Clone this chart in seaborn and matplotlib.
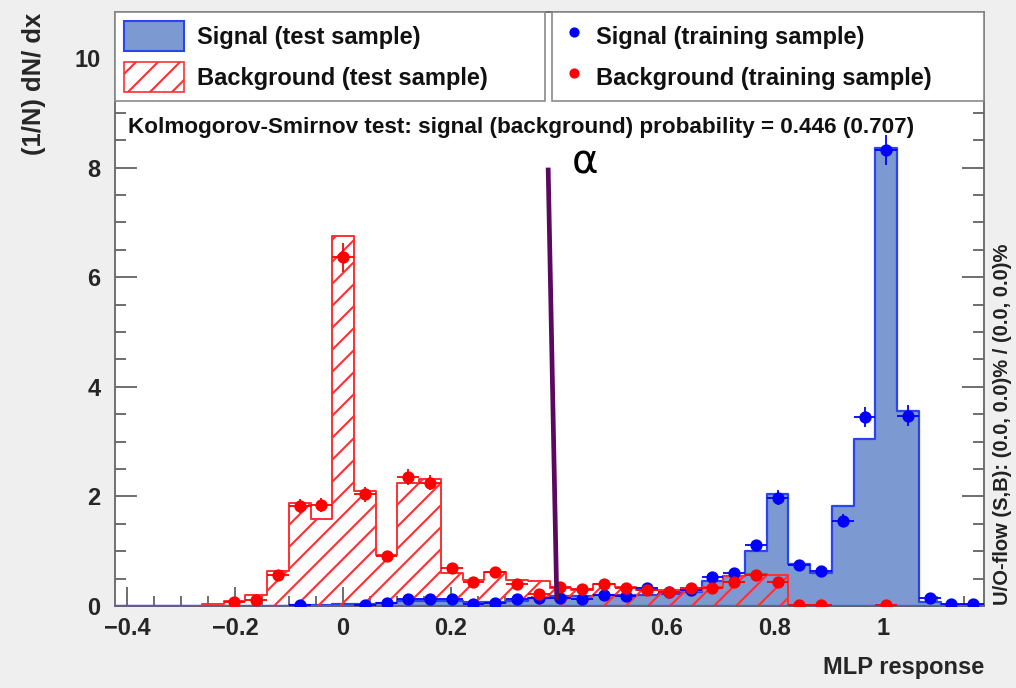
import numpy as np
import matplotlib
matplotlib.use("Agg")
import matplotlib.pyplot as plt
from matplotlib.patches import Patch
from matplotlib.lines import Line2D
from matplotlib.ticker import MultipleLocator, FuncFormatter
import seaborn as sns

# ---------------- data ----------------
XMIN, XMAX, NBINS = -0.422, 1.187, 40
nan = np.nan

signal_test = [0, 0, 0, 0, 0, 0, 0, 0, 0.02, 0.02,
               0.03, 0.04, 0.06, 0.10, 0.10, 0.10, 0.08, 0.08, 0.10, 0.15,
               0.18, 0.18, 0.20, 0.20, 0.20, 0.22, 0.25, 0.45, 0.55, 1.00,
               2.04, 0.76, 0.61, 1.82, 3.04, 8.35, 3.55, 0.08, 0.02, 0.02]

background_test = [0, 0, 0, 0, 0.03, 0.10, 0.20, 0.64, 1.88, 1.59,
                   6.75, 2.10, 0.93, 2.25, 2.32, 0.60, 0.48, 0.62, 0.48, 0.45,
                   0.33, 0.30, 0.40, 0.35, 0.30, 0.30, 0.28, 0.35, 0.55, 0.58,
                   0.57, 0, 0, 0, 0, 0, 0, 0, 0, 0]

signal_train = [nan, nan, nan, nan, nan, nan, nan, nan, 0.01, nan,
                nan, 0.02, 0.05, 0.12, 0.12, 0.12, 0.03, 0.06, 0.12, 0.15,
                0.15, 0.13, 0.20, 0.18, 0.33, 0.25, 0.30, 0.53, 0.60, 1.11,
                1.98, 0.74, 0.64, 1.56, 3.45, 8.32, 3.47, 0.15, 0.03, 0.03]
signal_train_err = [0, 0, 0, 0, 0, 0, 0, 0, 0.01, 0,
                    0, 0.01, 0.02, 0.03, 0.03, 0.03, 0.02, 0.02, 0.03, 0.04,
                    0.04, 0.03, 0.04, 0.04, 0.05, 0.05, 0.05, 0.07, 0.07, 0.10,
                    0.14, 0.08, 0.08, 0.12, 0.19, 0.28, 0.19, 0.04, 0.02, 0.02]

background_train = [nan, nan, nan, nan, nan, 0.08, 0.11, 0.57, 1.82, 1.84,
                    6.36, 2.04, 0.91, 2.35, 2.25, 0.70, 0.43, 0.62, 0.41, 0.21,
                    0.35, 0.31, 0.40, 0.33, 0.29, 0.26, 0.33, 0.33, 0.44, 0.57,
                    0.44, 0.01, 0.01, nan, nan, 0.01, nan, nan, nan, nan]
background_train_err = [0, 0, 0, 0, 0, 0.03, 0.03, 0.07, 0.13, 0.13,
                        0.26, 0.14, 0.09, 0.15, 0.14, 0.08, 0.06, 0.07, 0.06, 0.04,
                        0.06, 0.05, 0.06, 0.05, 0.05, 0.05, 0.05, 0.05, 0.06, 0.07,
                        0.06, 0.01, 0.01, 0, 0, 0.01, 0, 0, 0, 0]

ks_text = "Kolmogorov-Smirnov test: signal (background) probability = 0.446 (0.707)"
overflow_text = "U/O-flow (S,B): (0.0, 0.0)% / (0.0, 0.0)%"
labels_test = ["Signal (test sample)", "Background (test sample)"]
labels_train = ["Signal (training sample)", "Background (training sample)"]
# hand-drawn marker line with its label (data coordinates)
alpha_line_x = [0.380, 0.396]
alpha_line_y = [8.0, 0.1]
alpha_label_xy = (0.423, 8.1)

# ---------------- style ----------------
DPI = 132                 # chosen so that the hatch spacing matches
S = 100.0 / DPI           # sizes below are given as if at 100 dpi
def pt(v):
    return v * S

sns.set_style("ticks")
plt.rcParams["font.family"] = ["Liberation Sans", "DejaVu Sans"]
plt.rcParams["font.weight"] = "bold"
plt.rcParams["hatch.color"] = "red"
plt.rcParams["hatch.linewidth"] = pt(1.5)
plt.rcParams["axes.unicode_minus"] = True

SIG_FILL = "#7d99d1"
SIG_EDGE = "#2a45ee"
BKG_RED = "#ff3030"

edges = np.linspace(XMIN, XMAX, NBINS + 1)
centers = 0.5 * (edges[:-1] + edges[1:])
halfw = 0.5 * (edges[1] - edges[0])
bin_list = [float(e) for e in edges]

fig = plt.figure(figsize=(1016 / DPI, 688 / DPI), dpi=DPI, facecolor="#efefef")
ax = fig.add_axes([115 / 1016, 1 - 606 / 688, (984 - 115) / 1016, (606 - 12) / 688])
ax.set_facecolor("white")

sns.histplot(x=centers, weights=signal_test, bins=bin_list, element="step", fill=True,
             color=SIG_EDGE, facecolor=SIG_FILL, edgecolor=SIG_EDGE, linewidth=pt(1.6),
             ax=ax, zorder=1)
sns.histplot(x=centers, weights=background_test, bins=bin_list, element="step", fill=True,
             color=BKG_RED, facecolor=(1, 1, 1, 0), edgecolor=BKG_RED, linewidth=pt(1.4),
             hatch="//", ax=ax, zorder=2)

ax.errorbar(centers, signal_train, xerr=halfw, yerr=signal_train_err, fmt="o",
            color="#0000ff", ms=pt(7.5), elinewidth=pt(1.3), capsize=0, zorder=5)
ax.errorbar(centers, background_train, xerr=halfw, yerr=background_train_err, fmt="o",
            color="#ff0000", ms=pt(7.5), elinewidth=pt(1.3), capsize=0, zorder=6)

ax.plot(alpha_line_x, alpha_line_y, color="#5a0860", lw=pt(3.4), zorder=7,
        solid_capstyle="butt")
ax.text(alpha_label_xy[0], alpha_label_xy[1], "α", fontsize=pt(29), fontweight="normal",
        family="DejaVu Sans", color="black", va="center", ha="left", zorder=8)

ax.set_xlim(XMIN, XMAX)
ax.set_ylim(0, 10.84)
ax.xaxis.set_major_locator(MultipleLocator(0.2))
ax.xaxis.set_minor_locator(MultipleLocator(0.05))
ax.yaxis.set_major_locator(MultipleLocator(2))
ax.yaxis.set_minor_locator(MultipleLocator(0.5))
fmt = FuncFormatter(lambda v, p: ("%g" % round(v, 3)).replace("-", "\u2212"))
ax.xaxis.set_major_formatter(fmt)
ax.yaxis.set_major_formatter(fmt)
ax.tick_params(axis="both", which="both", direction="in", top=True, right=True,
               color="#555555", width=pt(1.2))
ax.tick_params(axis="x", which="major", length=pt(14), pad=pt(8), labelsize=pt(17))
ax.tick_params(axis="x", which="minor", length=pt(7))
ax.tick_params(axis="y", which="major", length=pt(16), pad=pt(10.5), labelsize=pt(17))
ax.tick_params(axis="y", which="minor", length=pt(8))
for s in ax.spines.values():
    s.set_color("#666666")
    s.set_linewidth(pt(1.3))

ax.set_xlabel("MLP response", fontsize=pt(17), fontweight="bold")
ax.xaxis.set_label_coords(1.0, -0.085)
ax.xaxis.label.set_ha("right")
ax.set_ylabel("(1/N) dN/ dx", fontsize=pt(18.5), fontweight="bold")
ax.yaxis.set_label_coords(-0.107, 0.998)
ax.yaxis.label.set_va("top")
ax.yaxis.label.set_ha("right")

fig.text(1003 / 1016, 1 - 424 / 688, overflow_text, rotation=90, fontsize=pt(14.5),
         fontweight="bold", ha="center", va="center", color="#222222")

ax.text(0.015, 0.806, ks_text, transform=ax.transAxes, fontsize=pt(16.2),
        fontweight="bold", va="center", ha="left", color="#111111", zorder=9)

h_test = [Patch(facecolor=SIG_FILL, edgecolor=SIG_EDGE, linewidth=pt(1.5)),
          Patch(facecolor="white", edgecolor=BKG_RED, hatch="//", linewidth=pt(1.2))]
h_train = [Line2D([], [], marker="o", color="#0000ff", ls="none", ms=pt(6)),
           Line2D([], [], marker="o", color="#ff0000", ls="none", ms=pt(6))]

leg_kw = dict(loc="upper left", mode="expand", fontsize=pt(17), frameon=True, fancybox=False,
              framealpha=1, edgecolor="#8a8a8a", borderaxespad=0, borderpad=0.36,
              labelspacing=0.45, handleheight=1.62)
leg1 = ax.legend(h_test, labels_test, bbox_to_anchor=(0, 0.847, 0.495, 0.153),
                 handlelength=2.55, handletextpad=0.55, **leg_kw)
leg1.get_frame().set_linewidth(pt(1.2))
ax.add_artist(leg1)
leg2 = ax.legend(h_train, labels_train, bbox_to_anchor=(0.503, 0.847, 0.497, 0.153),
                 handlelength=1.1, handletextpad=0.4, **leg_kw)
leg2.get_frame().set_linewidth(pt(1.2))
for lg in (leg1, leg2):
    lg.set_zorder(10)
    for t in lg.get_texts():
        t.set_fontweight("bold")
        t.set_color("#111111")

fig.savefig("out.png", dpi=DPI, facecolor=fig.get_facecolor())
